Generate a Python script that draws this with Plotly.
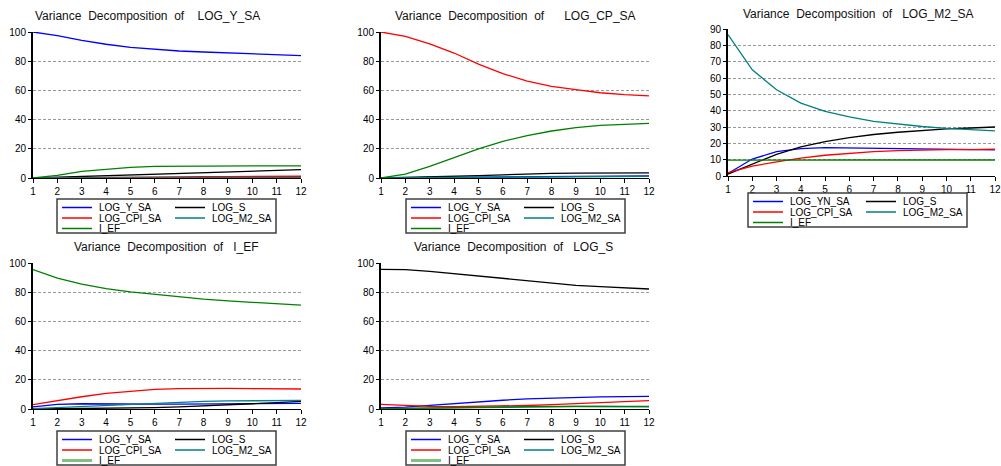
import plotly.graph_objects as go

W, H = 1001, 466
periods = list(range(1, 13))

# ---- data ----
names = ["LOG_Y_SA", "LOG_S", "LOG_CPI_SA", "LOG_M2_SA", "I_EF"]
names_m2 = ["LOG_YN_SA", "LOG_S", "LOG_CPI_SA", "LOG_M2_SA", "I_EF"]
colors = {"LOG_Y_SA": "#0000FF", "LOG_S": "#000000", "LOG_CPI_SA": "#FF0000",
          "LOG_M2_SA": "#008080", "I_EF": "#008000"}

titles = ["Variance  Decomposition  of    LOG_Y_SA",
          "Variance  Decomposition  of      LOG_CP_SA",
          "Variance  Decomposition  of   LOG_M2_SA",
          "Variance  Decomposition  of   I_EF",
          "Variance  Decomposition  of   LOG_S"]

# Panel 1: LOG_Y_SA
p1_y = [100, 97.5, 94.3, 91.6, 89.5, 88.1, 87.0, 86.3, 85.6, 85.2, 84.5, 83.8]
p1_s = [0, 0.5, 1.2, 1.8, 2.3, 2.8, 3.3, 3.8, 4.3, 4.8, 5.2, 5.7]
p1_cpi = [0, 0.2, 0.4, 0.5, 0.6, 0.7, 0.8, 0.9, 1.0, 1.1, 1.1, 1.2]
p1_m2 = [0, 0.1, 0.1, 0.2, 0.2, 0.2, 0.3, 0.3, 0.3, 0.3, 0.3, 0.3]
p1_ief = [0, 1.8, 4.6, 6.2, 7.3, 8.0, 8.2, 8.3, 8.3, 8.3, 8.3, 8.3]

# Panel 2: LOG_CP_SA
p2_y = [0, 0.1, 0.3, 0.5, 0.7, 0.9, 1.1, 1.2, 1.3, 1.4, 1.5, 1.5]
p2_s = [0, 0.3, 0.6, 1.0, 1.6, 2.2, 2.8, 3.1, 3.3, 3.4, 3.5, 3.5]
p2_cpi = [100, 97.0, 91.8, 85.6, 78.0, 71.5, 66.4, 62.8, 60.5, 58.4, 57.1, 56.2]
p2_m2 = [0, 0.1, 0.2, 0.3, 0.4, 0.6, 0.7, 0.8, 0.9, 1.0, 1.0, 1.1]
p2_ief = [0, 2.7, 8.0, 13.9, 19.9, 25.1, 29.0, 32.2, 34.5, 36.1, 37.0, 37.4]

# Panel 3: LOG_M2_SA
p3_y = [1.6, 10.4, 14.9, 16.8, 17.4, 17.2, 17.0, 16.8, 16.6, 16.4, 16.2, 16.0]
p3_s = [1.2, 7.4, 13.3, 17.8, 21.1, 23.5, 25.4, 26.8, 28.0, 28.8, 29.4, 30.0]
p3_cpi = [2.0, 6.1, 8.6, 11.0, 12.7, 13.9, 14.9, 15.5, 16.0, 16.2, 16.2, 16.4]
p3_m2 = [86.5, 65.0, 52.8, 44.6, 39.5, 36.2, 33.5, 31.7, 30.3, 29.2, 28.4, 27.6]
p3_ief = [9.7, 9.8, 9.8, 9.8, 9.8, 9.8, 9.8, 9.8, 9.8, 9.8, 9.8, 9.8]

# Panel 4: I_EF
p4_y = [1.5, 3.2, 3.6, 3.4, 3.4, 3.4, 3.4, 3.5, 3.6, 3.7, 3.8, 3.9]
p4_s = [0, 0.1, 0.2, 0.4, 0.6, 0.9, 1.4, 2.0, 2.8, 3.6, 4.4, 5.2]
p4_cpi = [3.0, 5.9, 8.4, 10.7, 12.3, 13.4, 13.9, 14.1, 14.1, 13.9, 13.9, 13.7]
p4_m2 = [0.3, 1.0, 1.8, 2.7, 3.5, 4.2, 4.8, 5.2, 5.5, 5.7, 5.8, 5.9]
p4_ief = [95.5, 89.7, 85.6, 82.5, 80.2, 78.4, 76.5, 75.2, 74.0, 73.1, 72.2, 71.1]

# Panel 5: LOG_S
p5_y = [0.8, 1.3, 2.5, 3.8, 5.0, 6.0, 7.0, 7.6, 8.0, 8.3, 8.5, 8.7]
p5_s = [95.7, 95.4, 94.3, 92.7, 91.1, 89.3, 87.7, 86.1, 84.7, 83.8, 82.9, 82.2]
p5_cpi = [3.2, 2.3, 1.8, 1.6, 1.7, 2.0, 2.4, 3.0, 3.7, 4.4, 5.1, 5.8]
p5_m2 = [0.1, 0.5, 0.6, 0.8, 0.9, 1.2, 1.3, 1.6, 1.8, 1.7, 1.7, 1.5]
p5_ief = [0.2, 0.5, 0.8, 1.1, 1.3, 1.5, 1.6, 1.7, 1.8, 1.8, 1.8, 1.8]

panels = [
    dict(series=[p1_y, p1_s, p1_cpi, p1_m2, p1_ief], labels=names, ymax=100, dtick=20),
    dict(series=[p2_y, p2_s, p2_cpi, p2_m2, p2_ief], labels=names, ymax=100, dtick=20),
    dict(series=[p3_y, p3_s, p3_cpi, p3_m2, p3_ief], labels=names_m2, ymax=90, dtick=10),
    dict(series=[p4_y, p4_s, p4_cpi, p4_m2, p4_ief], labels=names, ymax=100, dtick=20),
    dict(series=[p5_y, p5_s, p5_cpi, p5_m2, p5_ief], labels=names, ymax=100, dtick=20),
]

# ---- layout geometry (pixels) ----
areas = [(33, 301, 32, 178), (381, 649, 32, 178), (728, 995, 29, 176),
         (33, 301, 263, 409), (381, 649, 263, 409)]
title_pos = [(33, 16), (393, 16), (741, 14), (72, 247), (412, 247)]
legend_box = [(57, 199), (406, 199), (748, 193), (57, 431), (406, 431)]

fig = go.Figure()
layout = dict(template="none", width=W, height=H,
              margin=dict(l=0, r=0, t=0, b=0, autoexpand=False),
              paper_bgcolor="white", plot_bgcolor="white", showlegend=False,
              font=dict(family="Liberation Sans, Arial", size=10, color="#000"))
shapes, annotations = [], []

def px_x(p):
    return p / W

def px_y(p):
    return 1 - p / H

for i, pan in enumerate(panels):
    k = "" if i == 0 else str(i + 1)
    l, r, t, b = areas[i]
    for lab, ser in zip(pan["labels"], pan["series"]):
        base = "LOG_Y_SA" if lab == "LOG_YN_SA" else lab
        fig.add_trace(go.Scatter(x=periods, y=ser, mode="lines", name=lab,
                                 line=dict(color=colors[base], width=1.3),
                                 xaxis="x" + k, yaxis="y" + k, cliponaxis=False))
    layout["xaxis" + k] = dict(domain=[px_x(l), px_x(r)], range=[1, 12], anchor="y" + k,
                               automargin=False,
                               tickmode="linear", tick0=1, dtick=1, ticks="outside",
                               ticklen=4, tickcolor="#000", showgrid=False, zeroline=False,
                               showline=True, linecolor="#000", linewidth=1,
                               tickfont=dict(size=10))
    layout["yaxis" + k] = dict(domain=[px_y(b), px_y(t)], range=[0, pan["ymax"]],
                               anchor="x" + k, automargin=False,
                               tickmode="linear", tick0=0, dtick=pan["dtick"],
                               ticks="outside", ticklen=3, tickcolor="#000",
                               showgrid=True, gridcolor="#9a9a9a", griddash="3px,2px",
                               gridwidth=1, zeroline=False, showline=True,
                               linecolor="#000", linewidth=2, tickfont=dict(size=10))
    tx, ty = title_pos[i]
    annotations.append(dict(text=titles[i], x=px_x(tx), y=px_y(ty), xref="paper", yref="paper",
                            showarrow=False, xanchor="left", yanchor="middle",
                            font=dict(family="Liberation Sans, Arial", size=12, color="#111")))
    bx, by = legend_box[i]
    shapes.append(dict(type="rect", xref="paper", yref="paper",
                       x0=px_x(bx), x1=px_x(bx + 219), y0=px_y(by), y1=px_y(by + 34),
                       line=dict(color="#404040", width=1.5), fillcolor="white"))
    slots = [(0, 0), (1, 0), (0, 1), (1, 1), (0, 2)]
    for j, lab in enumerate(pan["labels"]):
        col, row = slots[j]
        base = "LOG_Y_SA" if lab == "LOG_YN_SA" else lab
        x0 = bx + (5 if col == 0 else 118)
        yy = by + 8.5 + row * 10.5
        lw = 1.5
        c = colors[base]
        if base == "I_EF" and i >= 3:
            lw, c = 3, "#80c080"
        shapes.append(dict(type="line", xref="paper", yref="paper",
                           x0=px_x(x0), x1=px_x(x0 + 30), y0=px_y(yy), y1=px_y(yy),
                           line=dict(color=c, width=lw)))
        annotations.append(dict(text=lab, x=px_x(x0 + 35), y=px_y(yy), xref="paper",
                                yref="paper", showarrow=False, xanchor="left",
                                yanchor="middle", font=dict(size=10, color="#000")))

layout["shapes"] = shapes
layout["annotations"] = annotations
fig.update_layout(**layout)
fig.write_html("out.html", config={"displayModeBar": False},
               post_script="document.body.style.margin='0';document.body.style.overflow='hidden';")
